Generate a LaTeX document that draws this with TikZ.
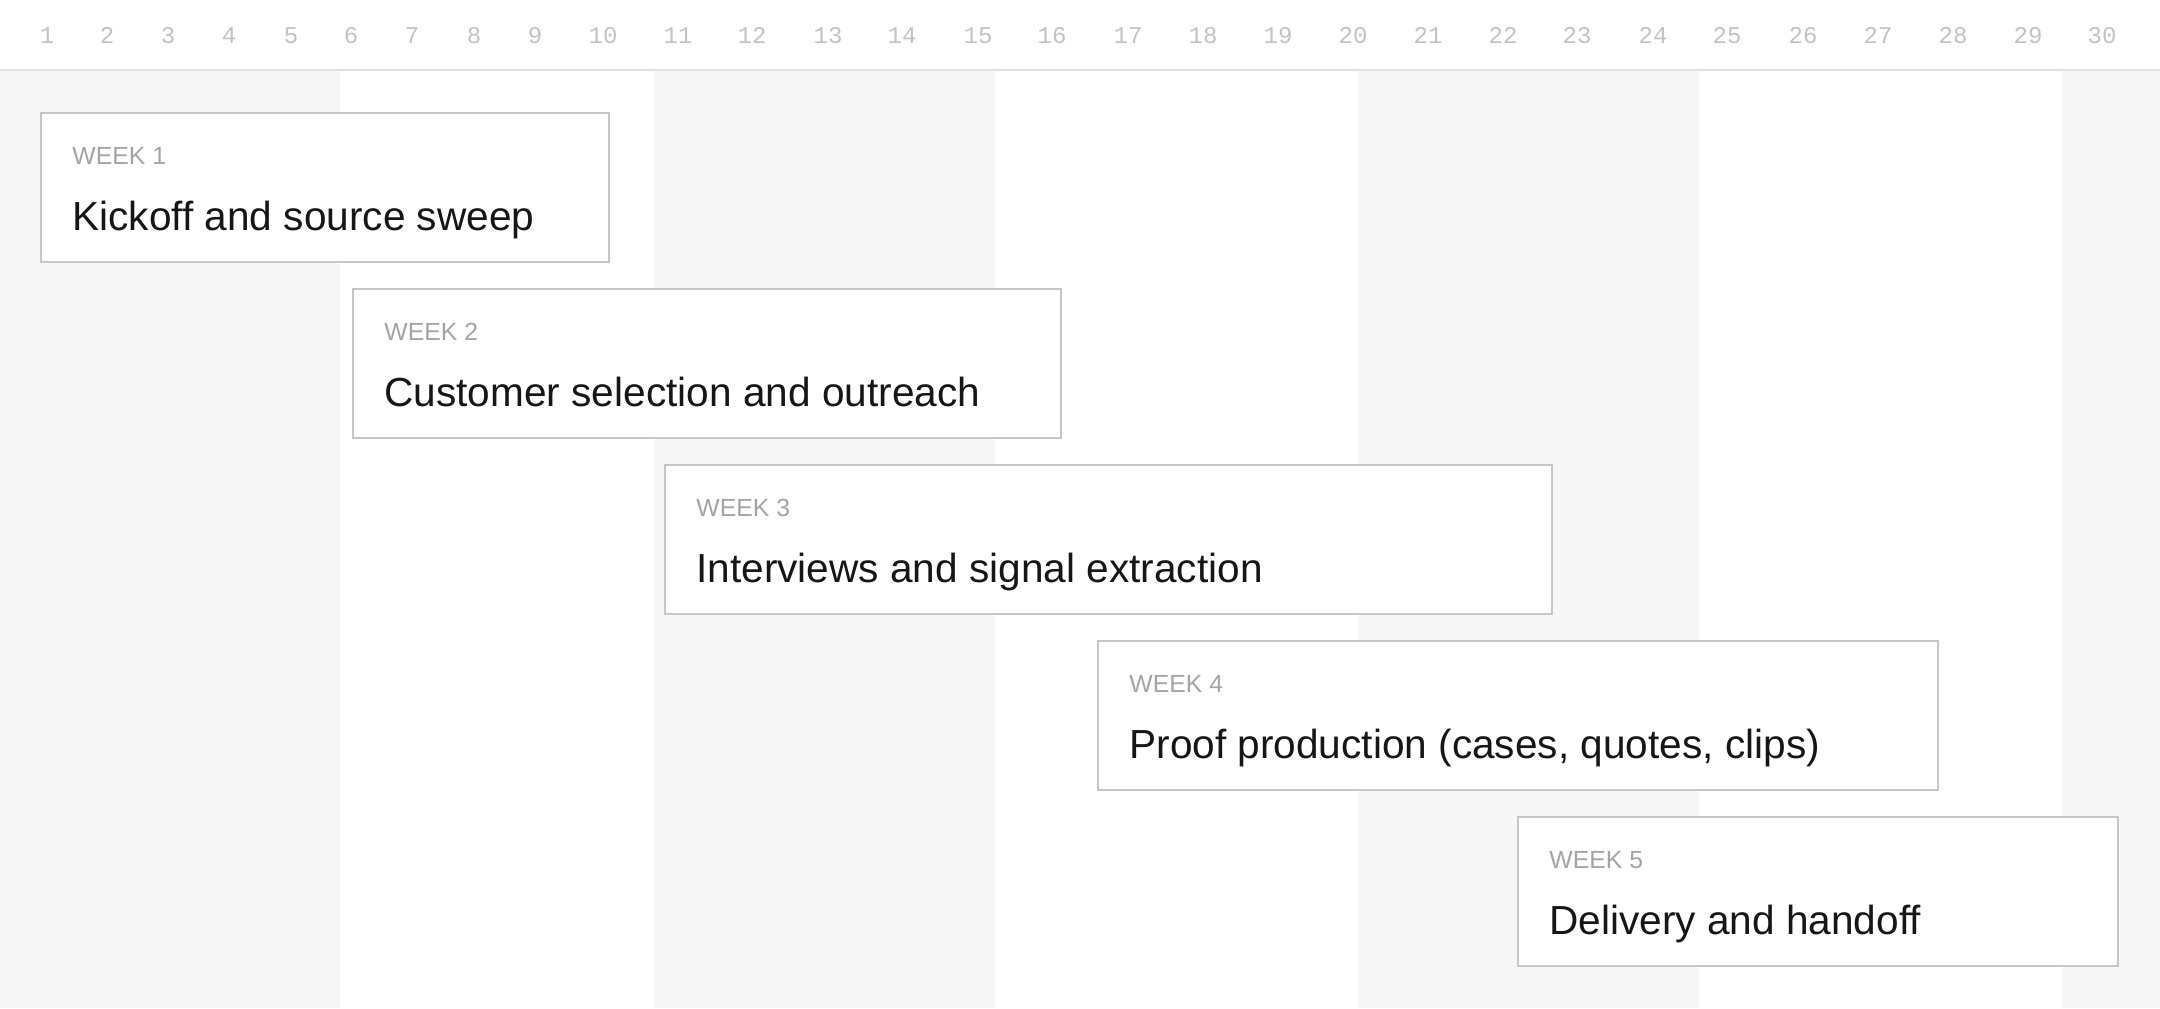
\documentclass[tikz,border=0pt]{standalone}
\usepackage{fontspec}
\setmainfont{Liberation Sans}
\setmonofont{Liberation Mono}

\definecolor{stripegray}{HTML}{F7F7F7}
\definecolor{rulegray}{HTML}{E0E0E0}
\definecolor{boxgray}{HTML}{C6C6C6}
\definecolor{labelgray}{HTML}{A4A4A4}
\definecolor{daygray}{HTML}{C2C2C2}
\definecolor{inkblack}{HTML}{161616}

\tikzset{
  stripe/.style={fill=stripegray},
  headrule/.style={draw=rulegray, line width=1pt},
  weekbox/.style={draw=boxgray, fill=white, line width=1pt},
  daynum/.style={text=daygray, font=\ttfamily\fontsize{12}{14}\selectfont, inner sep=0pt, anchor=base},
  weeklabel/.style={text=labelgray, font=\fontsize{12.4}{14}\selectfont, inner sep=0pt, anchor=base west},
  tasktext/.style={text=inkblack, font=\fontsize{20.3}{24}\selectfont, inner sep=0pt, anchor=base west}
}

\begin{document}
\begin{tikzpicture}[x=0.5pt,y=-0.5pt]
		\useasboundingbox (0,0) rectangle (2160,1008);
		
		% background stripes
		\fill[stripe] (0,70) rectangle (340,1008);
		\fill[stripe] (654,70) rectangle (995,1008);
		\fill[stripe] (1358,70) rectangle (1699,1008);
		\fill[stripe] (2062,70) rectangle (2160,1008);
		\draw[headrule] (0,70) -- (2160,70);
		
		% day numbers
		\foreach \n/\x in {1/47, 2/107, 3/168, 4/229, 5/291, 6/351, 7/412, 8/474, 9/535, 10/603,
		                   11/678, 12/752, 13/828, 14/902, 15/978, 16/1052, 17/1128, 18/1203, 19/1278, 20/1353,
		                   21/1428, 22/1503, 23/1577, 24/1653, 25/1727, 26/1803, 27/1878, 28/1953, 29/2028, 30/2102}
			\node[daynum] (day\n) at (\x,43) {\n};
		
		% week boxes
		\foreach \n/\xa/\xb/\ya/\txt in {1/41/609/113/{Kickoff and source sweep},
		                                 2/353/1061/289/{Customer selection and outreach},
		                                 3/665/1552/465/{Interviews and signal extraction},
		                                 4/1098/1938/641/{Proof production (cases, quotes, clips)},
		                                 5/1518/2118/817/{Delivery and handoff}}
		{
			\filldraw[weekbox] (\xa,\ya) rectangle (\xb,\ya+149);
			\node[weeklabel] (week\n) at (\xa+31,\ya+51) {WEEK \n};
			\node[tasktext] (task\n) at (\xa+31,\ya+117) {\txt};
		}
	\end{tikzpicture}
\end{document}
